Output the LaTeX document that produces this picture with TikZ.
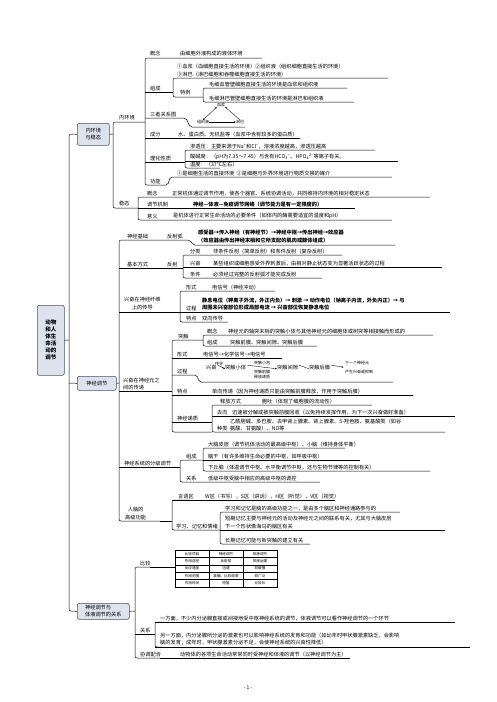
\documentclass[tikz,border=0pt]{standalone}
\usepackage{fontspec}
\newfontfamily\cjk{Noto Sans CJK SC}
\usetikzlibrary{arrows.meta}
\definecolor{boxfill}{HTML}{DCE2EE}
\definecolor{boxline}{HTML}{4A5468}
\begin{document}
\begin{tikzpicture}[x=1pt,y=-1pt,
  t/.style={font=\cjk\fontsize{5.2}{7.5}\selectfont, inner sep=0pt, anchor=south west, align=left},
  tb/.style={t, font=\cjk\bfseries\fontsize{5.2}{7.5}\selectfont},
  ts/.style={font=\cjk\fontsize{4}{4.8}\selectfont, inner sep=0pt, align=center},
  tt/.style={font=\cjk\fontsize{3.6}{4.4}\selectfont, inner sep=0pt, align=center},
  ln/.style={line width=0.5pt, rounded corners=2pt},
  topic/.style={draw=boxline, fill=boxfill, line width=0.6pt, rounded corners=2pt, inner sep=1.5pt,
    font=\cjk\fontsize{5.2}{7}\selectfont, align=left, anchor=north west},
  ar/.style={line width=0.35pt, -{Stealth[length=2pt,width=1.6pt]}}
]
\useasboundingbox (0,0) rectangle (496,702);

% ---------------- main spine and topic boxes
\node[topic, minimum width=27pt, minimum height=70pt, font=\cjk\bfseries\fontsize{5.5}{7}\selectfont] (root) at (37,305) {动物\\和人\\体生\\命活\\动的\\调节};
\node[topic, minimum width=32pt, minimum height=22pt] (b1) at (77,123) {内环境\\与稳态};
\node[topic, minimum width=39pt, minimum height=14pt] (b2) at (77,376) {神经调节};
\node[topic, minimum width=52pt, minimum height=16pt] (b3) at (77,603) {神经调节与\\体液调节的关系};
\coordinate (s0t) at (69,134);
\coordinate (s0b) at (69,611);
\draw[ln] (b1.west) -- (s0t) -- (s0b) -- (b3.west);
\draw[ln] (root.east) -- (69,340);
\draw[ln] (69,383) -- (b2.west);

% ================= Section 1 : 内环境与稳态
\draw[ln] (b1.east) -- (113,134);
\draw[ln] (145,122) -- (113,122) -- (113,208) -- (138,208);
\node[t] (nhj) at (119,120.5) {内环境};
\node[t] (wt) at (119,206.5) {稳态};

\draw[ln] (262,58) -- (145,58) -- (145,185) -- (168,185) -- (170,177) -- (392,177);
\node[t] (gn1) at (150,56.5) {概念};
\node[t] (gn1t) at (180,56.5) {由细胞外液构成的液体环境};

\node[t] (zc) at (150,91) {组成};
\draw[ln] (145,92) -- (173,92);
\draw[ln] (388,78) -- (173,78) -- (173,97) -- (203,97);
\node[t] (zct) at (177,77) {①血浆（血细胞直接生活的环境）②组织液（组织细胞直接生活的环境）\\③淋巴（淋巴细胞和吞噬细胞直接生活的环境）};
\node[t] (tl) at (180,95.5) {特例};
\draw[ln] (347,88) -- (203,88) -- (203,102) -- (354,102);
\node[t] (tl1) at (209,87) {毛细血管壁细胞直接生活的环境是血浆和组织液};
\node[t] (tl2) at (209,101) {毛细淋巴管壁细胞直接生活的环境是淋巴和组织液};

\node[t] (sz) at (150,117) {三者关系图};
\draw[ln] (145,118) -- (186,118) -- (190,127) -- (245,127);
\node[ts] (xj) at (221,105) {血浆};
\node[ts] (zzy) at (203,122) {组织液};
\node[ts] (lb) at (240,122) {淋巴};
\draw[ar, {Stealth[length=2pt,width=1.6pt]}-{Stealth[length=2pt,width=1.6pt]}] (xj.south west) -- (zzy.north);
\draw[ar] (lb.north) -- (xj.south east);
\draw[ar] (zzy.east) -- (lb.west);

\node[t] (cf) at (150,137) {成分};
\draw[ln] (145,138) -- (300,138);
\node[t] (cft) at (178,137) {水、蛋白质、无机盐等（血浆中含有较多的蛋白质）};

\node[t] (lh) at (150,161) {理化性质};
\draw[ln] (145,162) -- (185,162);
\draw[ln] (375,150) -- (185,150) -- (185,168) -- (220,168);
\draw[ln] (185,161) -- (398,161);
\node[t] (lh1) at (190,149) {渗透压：主要来源于Na\textsuperscript{+}和Cl\textsuperscript{−}，溶液浓度越高，渗透压越高};
\node[t] (lh2) at (190,160) {酸碱度：（pH为7.35～7.45）与含有HCO\textsubscript{3}\textsuperscript{−}、HPO\textsubscript{4}\textsuperscript{2−}等离子有关。};
\node[t] (lh3) at (190,167.5) {温度：（37℃左右）};

\node[t] (gnn) at (150,184) {功能};
\node[t] (gnt) at (177,176) {①是细胞生活的直接环境 \ ②是细胞与外界环境进行物质交换的媒介};

\draw[ln] (430,197) -- (138,197) -- (138,220) -- (392,220);
\draw[ln] (138,208) -- (355,208);
\node[t] (wgn) at (147,196) {概念};
\node[t] (wgnt) at (172,196) {正常机体通过调节作用，使各个器官、系统协调活动，共同维持内环境的相对稳定状态};
\node[t] (wjz) at (147,207) {调节机制};
\node[tb] (wjzt) at (193,207) {神经—体液—免疫调节网络（调节能力是有一定限度的）};
\node[t] (wyy) at (147,219) {意义};
\node[t] (wyyt) at (173,219) {是机体进行正常生命活动的必要条件（如体内的酶需要适宜的温度和pH）};

% ================= Section 2 : 神经调节
\draw[ln] (b2.east) -- (119,383);
\draw[ln] (163,240) -- (119,240) -- (119,521) -- (160,521);

\node[t] (sjjc) at (127,239) {神经基础};
\draw[ln] (163,240) -- (190,240) -- (193,245) -- (395,245);
\node[t] (fsh) at (167,239) {反射弧};
\node[tb] (fsht) at (198,243) {感受器→传入神经（有神经节）→神经中枢→传出神经→效应器\\（效应器由传出神经末梢和它所支配的肌肉或腺体组成）};

\node[t] (jbfs) at (127,267) {基本方式};
\draw[ln] (119,268) -- (183,268);
\node[t] (fs) at (167,267) {反射};
\draw[ln] (342,255) -- (183,255) -- (183,278) -- (322,278);
\draw[ln] (183,267) -- (442,267);
\node[t] (fl) at (190,254) {分类};
\node[t] (flt) at (213,254) {非条件反射（简单反射）和条件反射（复杂反射）};
\node[t] (xf) at (190,266) {兴奋};
\node[t] (xft) at (213,266) {某些组织或细胞感受外界刺激后，由相对静止状态变为显著活跃状态的过程};
\node[t] (tj) at (190,277) {条件};
\node[t] (tjt) at (213,277) {必须经过完整的反射弧才能完成反射};

\node[t, align=center] (xw) at (124,310) {兴奋在神经纤维\\上的传导};
\draw[ln] (119,312) -- (180,312);
\draw[ln] (275,291) -- (180,291) -- (180,322) -- (228,322);
\draw[ln] (180,312) -- (450,312);
\node[t] (xs1) at (186,290) {形式};
\node[t] (xs1t) at (212,290) {电信号（神经冲动）};
\node[t] (gc1) at (186,311) {过程};
\node[tb] (gc1t) at (202,310.5) {静息电位（钾离子外流，外正内负）→ 刺激 → 动作电位（钠离子内流，外负内正）→ 与\\周围未兴奋部位形成局部电流 → 兴奋部位恢复静息电位};
\node[t] (td1) at (186,321) {特点};
\node[t] (td1t) at (202,321) {双向传导};

\node[t] (xy) at (123,390.5) {兴奋在神经元之\\间的传递};
\draw[ln] (119,391) -- (172,391);
\draw[ln] (203,340) -- (172,340) -- (172,432) -- (212,432);
\node[t] (tc) at (178,339) {突触};
\draw[ln] (433,335) -- (203,335) -- (203,346) -- (317,346);
\node[t] (tcgn) at (207,334) {概念};
\node[t] (tcgnt) at (228,334) {神经元的轴突末梢的突触小体与其他神经元的细胞体或树突等相接触而形成的};
\node[t] (tczc) at (207,345) {组成};
\node[t] (tczct) at (230,345) {突触前膜、突触间隙、突触后膜};
\draw[ln] (172,358) -- (282,358);
\node[t] (xs2) at (177,357) {形式};
\node[t] (xs2t) at (203,357) {电信号→化学信号→电信号};
\draw[ln] (172,375) -- (197,375) -- (199,382) -- (393,382);
\node[t] (gc2) at (177,374) {过程};
\node[t, anchor=base west] (p1) at (206,369) {兴奋};
\node[t, anchor=base west] (p2) at (225,369) {突触小体};
\node[t, anchor=base west] (p3) at (277,369) {突触间隙};
\node[t, anchor=base west] (p4) at (309,369) {突触后膜};
\node[ts, anchor=west] (p5) at (345,363) {下一个神经元};
\node[ts, anchor=west] (p6) at (345,372) {产生兴奋或抑制};
\draw[ar] (p1.east) ++(1,-1.8) -- ([yshift=-1.8pt]p2.west);
\node[ts] (p1a) at (219,363.5) {传导};
\draw[ar] (p2.east) ++(1,-1.8) -- ([yshift=-1.8pt]p3.west);
\node[ts] (p2a) at (262,363) {突触小泡};
\node[ts] (p2b) at (262,372) {突触前膜};
\node[ts] (p2c) at (262,377) {释放递质};
\draw[line width=0.35pt] (p3.east) ++(1,-1.8) -- ([yshift=-1.8pt]p4.west);
\draw[ar] (p4.east) ++(1,-1.8) -- (343.5,367.2);
\draw[ln] (172,395) -- (413,395);
\node[t] (td2) at (177,394) {特点};
\node[t] (td2t) at (212,394) {单向传递（因为神经递质只能由突触前膜释放，作用于突触后膜）};
\node[t] (dz) at (177,421) {神经递质};
\draw[ln] (172,422) -- (212,422);
\draw[ln] (372,405) -- (212,405) -- (212,432) -- (445,432);
\draw[ln] (212,416) -- (455,416);
\node[t] (dz1) at (220,404) {释放方式};
\node[t] (dz1t) at (262,404) {胞吐（体现了细胞膜的流动性）};
\node[t] (dz2) at (217,415) {去向};
\node[t] (dz2t) at (232,415) {迅速被分解或被突触前膜回收（以免持续发挥作用，为下一次兴奋做好准备）};
\node[t] (dz3) at (217,431.5) {种类};
\node[t] (dz3t) at (230,431.5) {乙酰胆碱、多巴胺、去甲肾上腺素、肾上腺素、5-羟色胺、氨基酸类（如谷\\氨酸、甘氨酸）、NO等};

\node[t] (fj) at (124,466) {神经系统的分级调节};
\draw[ln] (119,467) -- (180,467);
\draw[ln] (203,460) -- (180,460) -- (180,482) -- (320,482);
\node[t] (fjzc) at (186,459) {组成};
\draw[ln] (345,448) -- (203,448) -- (203,471) -- (430,471);
\draw[ln] (203,460) -- (360,460);
\node[t] (fj1) at (208,447) {大脑皮层（调节机体活动的最高级中枢）、小脑（维持身体平衡）};
\node[t] (fj2) at (208,459) {脑干（有许多维持生命必要的中枢，如呼吸中枢）};
\node[t] (fj3) at (208,470) {下丘脑（体温调节中枢、水平衡调节中枢，还与生物节律等的控制有关）};
\node[t] (fjgx) at (186,481) {关系};
\node[t] (fj4) at (208,481) {低级中枢受脑中相应的高级中枢的调控};

\node[t, align=center] (gj) at (125,520) {人脑的\\高级功能};
\draw[ln] (160,521) -- (172,521);
\draw[ln] (190,500) -- (172,500) -- (172,530) -- (220,530);
\draw[ln] (172,500) -- (335,500);
\node[t] (yyq) at (178,499) {言语区};
\node[t] (yyqt) at (205,499) {W区（书写），S区（讲话），H区（听觉），V区（视觉）};
\node[t] (xx) at (176,529) {学习、记忆和情绪};
\draw[ln] (400,512) -- (220,512) -- (220,544) -- (310,544);
\draw[ln] (220,530) -- (445,530);
\node[t] (xx1) at (225,511) {学习和记忆是脑的高级功能之一，是由多个脑区和神经通路参与的};
\node[t] (xx2) at (225,529) {短期记忆主要与神经元的活动及神经元之间的联系有关，尤其与大脑皮层\\下一个形状像海马的脑区有关};
\node[t] (xx3) at (225,543) {长期记忆可能与新突触的建立有关};

% ================= Section 3
\draw[ln] (b3.east) -- (135,611);
\draw[ln] (150,567) -- (135,567) -- (135,658) -- (160,658);
\node[t] (bj) at (140,566) {比较};
\node[t] (gx) at (140,633) {关系};
\draw[ln] (135,634) -- (150,634);
\node[t] (xt) at (140,657) {协调配合};

\begin{scope}[shift={(175,550)}]
\draw[line width=0.4pt] (0,0) rectangle (102,37);
\foreach \yy in {7.4,14.8,22.2,29.6} \draw[line width=0.4pt] (0,\yy) -- (102,\yy);
\draw[line width=0.4pt] (34,0) -- (34,37);
\draw[line width=0.4pt] (68,0) -- (68,37);
\end{scope}
\node[tt] (c11) at (192,553.7) {比较项目};
\node[tt] (c12) at (226,553.7) {神经调节};
\node[tt] (c13) at (260,553.7) {体液调节};
\node[tt] (c21) at (192,561.1) {作用途径};
\node[tt] (c22) at (226,561.1) {反射弧};
\node[tt] (c23) at (260,561.1) {体液运输};
\node[tt] (c31) at (192,568.5) {反应速度};
\node[tt] (c32) at (226,568.5) {迅速};
\node[tt] (c33) at (260,568.5) {较缓慢};
\node[tt] (c41) at (192,575.9) {作用范围};
\node[tt] (c42) at (226,575.9) {准确、比较局限};
\node[tt] (c43) at (260,575.9) {较广泛};
\node[tt] (c51) at (192,583.3) {作用时间};
\node[tt] (c52) at (226,583.3) {短暂};
\node[tt] (c53) at (260,583.3) {比较长};
\draw[ln] (150,567) -- (175,567);

\draw[ln] (162,622) -- (155,622) -- (155,647) -- (162,647);
\draw[ln] (150,634) -- (155,634);
\draw[ln] (155,622) -- (455,622);
\draw[ln] (155,647) -- (470,647);
\node[t] (gx1) at (160,621) {一方面，不少内分泌腺直接或间接地受中枢神经系统的调节，体液调节可以看作神经调节的一个环节};
\node[t] (gx2) at (160,646) {另一方面，内分泌腺所分泌的激素也可以影响神经系统的发育和功能（如幼年时甲状腺激素缺乏，会影响\\脑的发育；成年时，甲状腺激素分泌不足，会使神经系统的兴奋性降低）};
\draw[ln] (160,658) -- (350,658);
\node[t] (xtt) at (180,657) {动物体的各项生命活动常常同时受神经和体液的调节（以神经调节为主）};

\node[font=\cjk\fontsize{5}{6}\selectfont, inner sep=0pt] (pg) at (248,688) {- 1 -};
\end{tikzpicture}
\end{document}
